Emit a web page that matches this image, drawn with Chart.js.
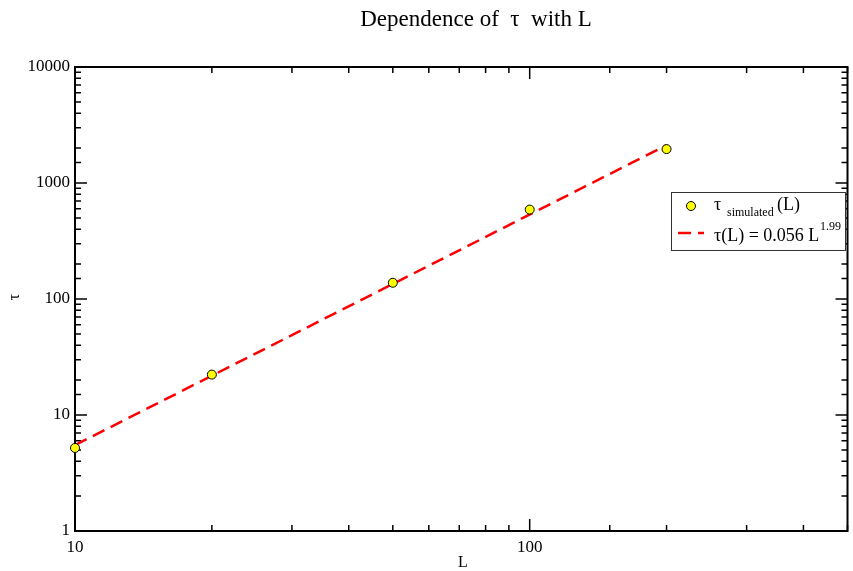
<!DOCTYPE html>
<html>
<head>
<meta charset="utf-8">
<script src="https://cdn.jsdelivr.net/npm/chart.js@4.4.1/dist/chart.umd.min.js"></script>
<style>
  html, body { margin: 0; padding: 0; background: #fff; }
  #wrap { width: 853px; height: 571px; position: relative; }
</style>
</head>
<body>
<div id="wrap"><canvas id="tauChart"></canvas></div>
<script>
// Simulated relaxation times
const sizes = [10, 20, 50, 100, 200];
const tauSimulated = [5.2, 22.3, 138, 590, 1960];

// Power-law fit tau(L) = 0.056 L^1.99, endpoints
const fitL = [10, 200];
const fitTau = [5.5, 2120];

const xRange = [10, 500];
const yRange = [1, 10000];
const decadeLabels = [1, 10, 100, 1000, 10000];

const serif = '"Liberation Serif", "DejaVu Serif", serif';

// Inward ticks, frame, title, axis labels and legend (xmgrace look)
const gracePlugin = {
    id: 'grace',
    beforeDatasetsDraw(chart) {
        const { ctx, chartArea: a, scales } = chart;
        const x = scales.x, y = scales.y;
        ctx.save();
        ctx.strokeStyle = '#000';
        ctx.lineWidth = 2;
        ctx.strokeRect(a.left, a.top, a.right - a.left, a.bottom - a.top);

        ctx.lineWidth = 1.5;
        const isMajor = v => Math.abs(Math.log10(v) - Math.round(Math.log10(v))) < 1e-9;
        x.ticks.forEach(t => {
            const px = x.getPixelForValue(t.value);
            const len = isMajor(t.value) ? 12 : 6;
            ctx.beginPath();
            ctx.moveTo(px, a.bottom); ctx.lineTo(px, a.bottom - len);
            ctx.moveTo(px, a.top); ctx.lineTo(px, a.top + len);
            ctx.stroke();
        });
        y.ticks.forEach(t => {
            const py = y.getPixelForValue(t.value);
            const len = isMajor(t.value) ? 12 : 6;
            ctx.beginPath();
            ctx.moveTo(a.left, py); ctx.lineTo(a.left + len, py);
            ctx.moveTo(a.right, py); ctx.lineTo(a.right - len, py);
            ctx.stroke();
        });
        ctx.restore();
    },
    afterDraw(chart) {
        const ctx = chart.ctx;
        ctx.save();

        // Title
        ctx.fillStyle = '#000';
        ctx.textAlign = 'center';
        ctx.textBaseline = 'alphabetic';
        ctx.font = '23px ' + serif;
        ctx.fillText('Dependence of  \u03c4  with L', 476, 26);

        // Axis titles
        ctx.font = '16px ' + serif;
        ctx.fillText('L', 463, 567);
        ctx.save();
        ctx.translate(19, 297);
        ctx.rotate(-Math.PI / 2);
        ctx.fillText('\u03c4', 0, 0);
        ctx.restore();

        // Legend
        ctx.fillStyle = '#fff';
        ctx.fillRect(671, 192, 174, 58);
        ctx.strokeStyle = '#333';
        ctx.lineWidth = 1;
        ctx.strokeRect(671.5, 192.5, 174, 58);

        ctx.beginPath();
        ctx.arc(691, 206, 4.5, 0, Math.PI * 2);
        ctx.fillStyle = '#ffff00';
        ctx.fill();
        ctx.strokeStyle = '#000';
        ctx.stroke();

        ctx.strokeStyle = '#ff0000';
        ctx.lineWidth = 2.5;
        ctx.setLineDash([13, 7]);
        ctx.beginPath();
        ctx.moveTo(678, 233); ctx.lineTo(704, 233);
        ctx.stroke();
        ctx.setLineDash([]);

        ctx.fillStyle = '#000';
        ctx.textAlign = 'left';
        ctx.font = '18px ' + serif;
        ctx.fillText('\u03c4', 714, 210);
        ctx.font = '12px ' + serif;
        ctx.fillText('simulated', 727, 216);
        ctx.font = '18px ' + serif;
        ctx.fillText('(L)', 777, 210);
        ctx.fillText('\u03c4(L) = 0.056 L', 714, 241);
        ctx.font = '12px ' + serif;
        ctx.fillText('1.99', 820, 230);
        ctx.restore();
    }
};

const decadeOnly = v => decadeLabels.includes(v) ? String(v) : '';

new Chart(document.getElementById('tauChart'), {
    type: 'scatter',
    data: {
        datasets: [
            {
                label: 'fit',
                type: 'line',
                data: fitL.map((l, i) => ({ x: l, y: fitTau[i] })),
                borderColor: '#ff0000',
                borderWidth: 2.5,
                borderDash: [13, 7],
                pointRadius: 0,
                fill: false,
                order: 2
            },
            {
                label: 'simulated',
                data: sizes.map((l, i) => ({ x: l, y: tauSimulated[i] })),
                backgroundColor: '#ffff00',
                borderColor: '#000',
                borderWidth: 1,
                pointRadius: 4.5,
                clip: false,
                order: 1
            }
        ]
    },
    options: {
        responsive: true,
        maintainAspectRatio: false,
        animation: false,
        layout: { padding: { top: 67, right: 3, left: 0, bottom: 0 } },
        plugins: {
            legend: { display: false },
            tooltip: { enabled: false }
        },
        scales: {
            x: {
                type: 'logarithmic',
                min: xRange[0],
                max: xRange[1],
                grid: { display: false },
                border: { display: false },
                afterFit: s => { s.height = 40; },
                ticks: {
                    autoSkip: false,
                    maxRotation: 0,
                    padding: -2,
                    color: '#000',
                    font: { family: serif, size: 17 },
                    callback: decadeOnly
                }
            },
            y: {
                type: 'logarithmic',
                min: yRange[0],
                max: yRange[1],
                grid: { display: false },
                border: { display: false },
                afterFit: s => { s.width = 75; },
                ticks: {
                    autoSkip: false,
                    padding: -3,
                    color: '#000',
                    font: { family: serif, size: 17 },
                    callback: decadeOnly
                }
            }
        }
    },
    plugins: [gracePlugin]
});
</script>
</body>
</html>
